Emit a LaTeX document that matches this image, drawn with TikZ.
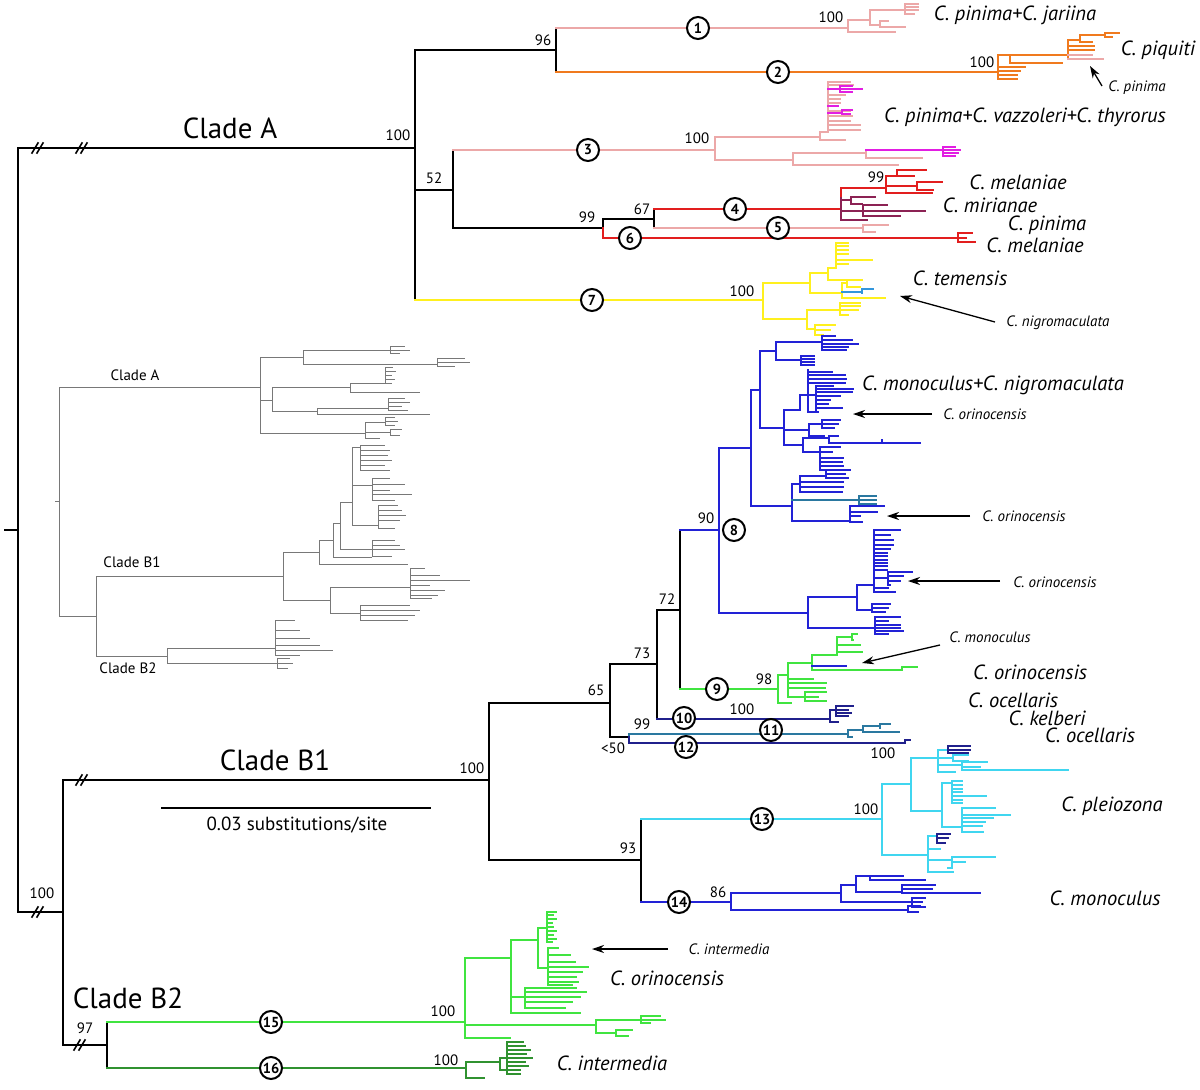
\documentclass[tikz,border=0pt]{standalone}
\usepackage{fontspec}
\setmainfont{PT Sans}
\usetikzlibrary{arrows.meta}

\definecolor{pinkc}{RGB}{236,168,168}
\definecolor{orangec}{RGB}{240,122,30}
\definecolor{magc}{RGB}{226,30,226}
\definecolor{redc}{RGB}{226,30,30}
\definecolor{mirc}{RGB}{140,34,84}
\definecolor{yelc}{RGB}{255,240,30}
\definecolor{bluec}{RGB}{34,34,214}
\definecolor{greenc}{RGB}{64,228,64}
\definecolor{navyc}{RGB}{32,32,140}
\definecolor{tealc}{RGB}{42,120,160}
\definecolor{cyanc}{RGB}{64,214,240}
\definecolor{dgreenc}{RGB}{48,146,48}
\definecolor{ltbluec}{RGB}{50,150,220}
\definecolor{greyc}{RGB}{120,120,120}

% vertical bar of a subclade plus its tips (y/xend)
\newcommand{\clade}[5]{%
  \draw[#1] (#2,#3) -- (#2,#4);
  \foreach \ty/\tx in {#5} {\draw[#1] (#2,\ty) -- (\tx,\ty);}}
% break mark //
\newcommand{\brk}[2]{\draw[bb] (#1-6,#2+5) -- (#1,#2-5) (#1-1,#2+5) -- (#1+5,#2-5);}

\begin{document}
\begin{tikzpicture}[
    x=1pt, y=-1pt,
    tr/.style={line width=1.45pt, line cap=rect},
    bb/.style={tr, line width=1.6pt, black},
    pk/.style={tr, pinkc}, or/.style={tr, orangec}, mg/.style={tr, magc},
    rd/.style={tr, redc}, mr/.style={tr, mirc}, yl/.style={tr, yelc},
    bl/.style={tr, bluec}, gr/.style={tr, greenc}, nv/.style={tr, navyc},
    tl/.style={tr, tealc}, cy/.style={tr, cyanc}, dg/.style={tr, dgreenc},
    lb/.style={tr, ltbluec},
    gy/.style={line width=0.7pt, greyc},
    num/.style={circle, draw, line width=2pt, fill=white, inner sep=0pt,
                minimum size=22pt, font=\bfseries\fontsize{14.5}{14.5}\selectfont},
    bs/.style={font=\fontsize{15}{16}\selectfont, inner sep=0pt},
    sp/.style={font=\itshape\fontsize{20.5}{22}\selectfont, inner sep=0pt},
    spsm/.style={font=\itshape\fontsize{15}{16}\selectfont, inner sep=0pt},
    cl/.style={font=\fontsize{29}{31}\selectfont, inner sep=0pt},
    il/.style={font=\fontsize{15}{16}\selectfont, inner sep=0pt},
    ar/.style={-{Stealth[length=12pt,width=8pt]}, line width=1.3pt}
    ]
\useasboundingbox (0,0) rectangle (1200,1090);

% backbone nodes
\coordinate (root) at (18,530);
\coordinate (nA) at (415,148);
\coordinate (n96) at (556,50);
\coordinate (n52) at (453,190);
\coordinate (n99a) at (603,228);
\coordinate (n67) at (654,219);
\coordinate (nB) at (63,912);
\coordinate (nB1) at (489,780);
\coordinate (n65) at (610,703);
\coordinate (n73) at (657,664);
\coordinate (n72) at (680,610);
\coordinate (n90) at (719,530);
\coordinate (n99b) at (629,737);
\coordinate (n93) at (641,860);
\coordinate (nB2) at (107,1045);
% subclade tips of the numbered branches
\coordinate (t1) at (848,28);
\coordinate (t2) at (998,72);
\coordinate (t3) at (715,150);
\coordinate (t4) at (841,209);
\coordinate (t5) at (863,228);
\coordinate (t6) at (958,238);
\coordinate (t7) at (763,300);
\coordinate (t9) at (778,689);
\coordinate (t10) at (830,719);
\coordinate (t11) at (848,734);
\coordinate (t12) at (905,743);
\coordinate (t13) at (882,819);
\coordinate (t14) at (731,902);
\coordinate (t15) at (465,1022);
\coordinate (t16) at (466,1068);

% ---- clade A backbone
\draw[bb] (5,530) -- (root);
\draw[bb] (root |- nA) -- (root |- nB);
\draw[bb] (root |- nA) -- (nA);
\brk{38}{148} \brk{82}{148}
\draw[bb] (nA |- n96) -- (nA |- t7);
\draw[bb] (nA |- n96) -- (n96);
\draw[bb] (n96 |- t1) -- (n96 |- t2);
\draw[pk] (n96 |- t1) -- (t1);
\draw[or] (n96 |- t2) -- (t2);
\draw[bb] (nA |- n52) -- (n52);
\draw[bb] (n52 |- t3) -- (n52 |- n99a);
\draw[pk] (n52 |- t3) -- (t3);
\draw[bb] (n52 |- n99a) -- (n99a);
\draw[bb] (n99a |- n67) -- (n99a);
\draw[rd] (n99a) -- (n99a |- t6) -- (t6);
\draw[bb] (n99a |- n67) -- (n67);
\draw[bb] (n67 |- t4) -- (n67 |- t5);
\draw[rd] (n67 |- t4) -- (t4);
\draw[pk] (n67 |- t5) -- (t5);
\draw[yl] (nA |- t7) -- (t7);

% ---- clade B backbone
\draw[bb] (root |- nB) -- (nB);
\brk{38}{912}
\draw[bb] (nB |- nB1) -- (nB |- nB2);
\draw[bb] (nB |- nB1) -- (nB1);
\brk{82}{780}
\draw[bb] (nB1 |- n65) -- (nB1 |- n93);
\draw[bb] (nB1 |- n65) -- (n65);
\draw[bb] (n65 |- n73) -- (n65 |- n99b);
\draw[bb] (n65 |- n73) -- (n73);
\draw[bb] (n73 |- n72) -- (n73 |- t10);
\draw[bb] (n73 |- n72) -- (n72);
\draw[bb] (n72 |- n90) -- (n72 |- t9);
\draw[bl] (n72 |- n90) -- (n90);
\draw[gr] (n72 |- t9) -- (t9);
\draw[nv] (n73 |- t10) -- (t10);
\draw[bb] (n65 |- n99b) -- (n99b);
\draw[tl] (n99b) -- (n99b |- t11) -- (t11);
\draw[nv] (n99b) -- (n99b |- t12) -- (t12);
\draw[bb] (nB1 |- n93) -- (n93);
\draw[bb] (n93 |- t13) -- (n93 |- t14);
\draw[cy] (n93 |- t13) -- (t13);
\draw[bl] (n93 |- t14) -- (t14);
\draw[bb] (nB |- nB2) -- (nB2);
\brk{80}{1045}
\draw[bb] (nB2 |- t15) -- (nB2 |- t16);
\draw[gr] (nB2 |- t15) -- (t15);
\draw[dg] (nB2 |- t16) -- (t16);

% ---- subclades
% 1
\clade{pk}{848}{20}{32}{20/870, 32/895}
\clade{pk}{870}{10}{25}{10/905, 25/880}
\clade{pk}{905}{4}{14}{4/918, 7/918, 10/918, 14/914}
\clade{pk}{880}{21}{27}{21/888, 27/905}
% 2
\clade{or}{998}{55}{79}{55/1010, 67/1025, 71/1020, 75/1017, 79/1017}
\clade{or}{1010}{55}{63}{55/1068, 63/1062}
\clade{or}{1068}{40}{59}{40/1080, 46/1094, 50/1094}
\draw[pk] (1068,55) -- (1092,55) (1068,59) -- (1103,59);
\clade{or}{1080}{35}{42}{35/1105, 42/1092}
\clade{or}{1105}{33}{37}{33/1119, 37/1112}
% 3
\clade{pk}{715}{137}{160}{137/820, 160/793}
\clade{pk}{820}{132}{140}{132/828, 140/845}
\clade{pk}{828}{82}{132}{82/850, 85/853, 95/845, 99/840, 103/840, 111/850, 116/852, 121/850, 125/860, 130/860}
\draw[mg] (828,89) -- (840,89) (828,106) -- (838,106) (828,113) -- (842,113);
\clade{mg}{840}{86}{92}{86/852, 89/862, 92/852}
\clade{mg}{842}{110}{114}{110/852, 114/850}
\clade{pk}{793}{153}{165}{153/866, 165/898}
\clade{pk}{866}{150}{158}{158/922}
\draw[mg] (866,150) -- (943,150);
\clade{mg}{943}{147}{156}{147/955, 150/960, 153/958, 156/955}
% 4, 5, 6
\clade{rd}{841}{188}{209}{188/886}
\clade{mr}{841}{198}{220}{200/851, 211/863, 220/867}
\clade{rd}{886}{176}{193}{176/897, 186/917, 193/932}
\clade{rd}{897}{170}{176}{170/926, 176/914}
\clade{rd}{917}{182}{190}{182/942, 190/933}
\clade{mr}{851}{197}{204}{197/875, 204/862}
\clade{mr}{863}{205}{216}{205/887, 211/925, 216/900}
\clade{pk}{863}{225}{232}{225/888, 232/875}
\clade{rd}{958}{233}{242}{233/972, 238/966, 242/975}
% 7
\clade{yl}{763}{283}{319}{283/810, 319/807}
\clade{yl}{810}{273}{293}{273/828, 293/842}
\clade{yl}{828}{268}{280}{268/836, 280/848}
\clade{yl}{836}{243}{268}{243/848, 246/848, 250/848, 254/848, 260/872, 264/848}
\clade{yl}{842}{283}{298}{283/847, 298/885}
\clade{yl}{847}{280}{287}{280/862, 287/860}
\clade{lb}{842}{292}{292}{292/862}
\clade{lb}{862}{289}{293}{289/873}
\clade{yl}{807}{310}{329}{310/840, 329/815}
\clade{yl}{840}{303}{315}{303/860, 306/860, 310/858, 315/848}
\clade{yl}{815}{325}{335}{325/835, 330/830, 335/823}
% 8
\clade{bl}{719}{448}{613}{448/751, 613/808}
\clade{bl}{751}{390}{506}{390/760, 506/792}
\clade{bl}{760}{351}{428}{351/776, 428/784}
\clade{bl}{776}{342}{360}{342/822, 360/801}
\clade{bl}{822}{336}{350}{336/835, 340/852, 344/858, 347/848, 350/846}
\clade{bl}{801}{356}{365}{356/814, 359/814, 362/814, 365/814}
\clade{bl}{784}{410}{445}{410/800, 430/809, 445/803}
\clade{bl}{800}{395}{410}{395/808}
\clade{bl}{808}{370}{412}{372/832, 375/845, 379/846, 383/845, 395/816, 412/818}
\clade{bl}{816}{386}{412}{386/833, 389/853, 392/852, 396/840, 400/830, 404/828, 408/842}
\clade{bl}{809}{424}{436}{424/822, 436/824}
\clade{bl}{822}{420}{428}{420/840, 424/838, 428/834}
\clade{bl}{803}{438}{452}{438/829, 452/820}
\clade{bl}{829}{436}{443}{436/838, 443/882}
\clade{bl}{882}{440}{443}{443/920}
\clade{bl}{820}{447}{470}{447/840, 452/832, 458/843, 462/842, 466/843, 470/843}
\clade{bl}{792}{484}{521}{484/800, 521/850}
\draw[tl] (792,500) -- (859,500);
\clade{tl}{859}{496}{504}{496/876, 500/876, 504/876}
\clade{bl}{800}{476}{492}{476/826, 482/843, 487/843, 492/842}
\clade{bl}{826}{470}{478}{470/850, 474/845, 478/848}
\clade{bl}{850}{506}{522}{506/884, 512/877, 516/860, 522/862}
\clade{bl}{808}{597}{628}{597/857, 628/875}
\clade{bl}{857}{585}{610}{585/874, 610/872}
\clade{bl}{874}{530}{592}{530/900, 535/890, 540/893, 545/893, 549/890, 553/887, 556/887, 560/887, 563/887, 566/887, 570/887, 578/888, 588/888, 592/895}
\clade{bl}{888}{572}{585}{572/912, 576/903, 581/900, 585/890}
\clade{bl}{872}{604}{612}{604/890, 608/888, 612/885}
\clade{bl}{875}{617}{634}{617/900, 621/888, 625/900, 628/900, 631/903, 634/888}
% 9
\clade{gr}{778}{675}{703}{675/788, 703/791}
\clade{gr}{788}{663}{697}{663/812, 679/813, 683/826, 688/825, 697/805}
\clade{gr}{805}{692}{701}{692/826, 697/818, 701/826}
\clade{gr}{812}{655}{670}{655/837, 670/902}
\clade{gr}{837}{637}{655}{637/852, 645/860, 652/862}
\clade{gr}{852}{634}{640}{634/857, 640/853}
\draw[bl] (812,666) -- (846,666);
\clade{gr}{902}{667}{670}{667/917}
% 10, 11, 12
\clade{nv}{830}{710}{722}{710/836, 722/838}
\clade{nv}{836}{706}{716}{706/853, 710/848, 713/851, 716/848}
\clade{tl}{848}{730}{737}{730/863, 737/852}
\clade{tl}{863}{726}{732}{726/880, 732/899}
\clade{tl}{880}{724}{728}{724/890}
\clade{nv}{905}{740}{743}{740/910}
% 13
\clade{cy}{882}{784}{855}{784/911, 855/928}
\clade{cy}{911}{758}{811}{758/938, 811/942}
\clade{cy}{938}{750}{772}{750/948, 758/953, 765/962, 772/955}
\clade{nv}{948}{746}{753}{746/970, 750/970, 753/968}
\clade{cy}{953}{755}{761}{755/968, 761/968}
\clade{cy}{962}{762}{770}{762/987, 767/980, 770/1068}
\clade{cy}{942}{783}{827}{783/952, 827/962}
\clade{cy}{952}{781}{803}{781/962, 785/962, 789/962, 792/962, 796/986, 800/962, 803/962}
\clade{cy}{962}{808}{832}{808/995, 815/1010, 818/993, 822/985, 826/982, 832/983}
\clade{cy}{928}{836}{872}{836/937, 849/940, 860/952, 872/953}
\clade{nv}{937}{834}{843}{834/950, 838/948, 843/945}
\clade{cy}{952}{857}{868}{857/995, 862/965, 868/948}
% 14
\clade{bl}{731}{893}{910}{893/841, 910/908}
\clade{bl}{841}{885}{902}{885/856, 902/912}
\clade{bl}{856}{876}{892}{876/870, 892/902}
\clade{bl}{870}{876}{880}{876/903, 880/925}
\clade{bl}{902}{885}{893}{885/935, 889/932, 893/980}
\clade{bl}{912}{898}{907}{898/925, 902/922, 907/925}
\clade{bl}{908}{906}{912}{906/920, 912/918}
% 15
\clade{gr}{465}{958}{1038}{958/511, 1025/596, 1038/510}
\clade{gr}{511}{940}{1013}{940/538, 997/525, 1013/580}
\clade{gr}{538}{928}{968}{928/547, 968/548}
\clade{gr}{547}{912}{942}{912/556, 915/553, 919/556, 923/552, 927/553, 931/556, 935/553, 939/556, 942/552}
\clade{gr}{548}{948}{985}{948/558, 955/570, 962/575, 967/588, 972/582, 977/576, 982/578, 985/572}
\clade{gr}{525}{988}{1008}{988/576, 992/586, 997/580, 1002/572, 1008/565}
\clade{gr}{596}{1020}{1033}{1020/641, 1033/616}
\clade{gr}{641}{1016}{1023}{1016/660, 1020/665, 1023/650}
\clade{gr}{616}{1030}{1036}{1030/632, 1036/628}
% 16
\clade{dg}{466}{1062}{1078}{1062/500, 1078/484}
\clade{dg}{500}{1058}{1070}{1058/507, 1070/520}
\clade{dg}{507}{1042}{1074}{1042/523, 1046/525, 1050/530, 1054/526, 1058/532, 1062/525, 1066/528, 1070/520, 1074/520}

% ---- inset tree
\draw[gy] (55,501) -- (59,501);
\clade{gy}{59}{387}{616}{387/260, 616/96}
\clade{gy}{260}{357}{433}{357/303, 400/272, 433/365}
\clade{gy}{303}{350}{364}{350/390, 364/437}
\clade{gy}{390}{346}{353}{346/405, 350/410, 353/400}
\clade{gy}{437}{358}{366}{358/465, 362/470, 366/455}
\clade{gy}{272}{387}{411}{387/350, 411/317}
\clade{gy}{350}{383}{392}{383/385, 392/420}
\clade{gy}{385}{367}{383}{367/393, 371/396, 375/392, 379/395, 383/392}
\clade{gy}{317}{408}{414}{408/388, 414/430}
\clade{gy}{388}{398}{410}{398/405, 402/410, 406/402, 410/408}
\clade{gy}{365}{422}{438}{422/385, 432/390, 438/380}
\clade{gy}{385}{417}{425}{417/395, 421/398, 425/395}
\clade{gy}{390}{429}{435}{429/402, 435/400}
\clade{gy}{96}{576}{656}{576/283, 656/167}
\clade{gy}{283}{552}{600}{552/319, 600/330}
\clade{gy}{319}{540}{564}{540/333, 564/408}
\clade{gy}{333}{523}{557}{523/340, 557/372}
\clade{gy}{340}{502}{549}{502/352, 549/372}
\clade{gy}{352}{447}{525}{447/360, 485/372, 525/378}
\clade{gy}{360}{445}{470}{445/385, 450/390, 455/388, 460/392, 465/385, 470/390}
\clade{gy}{372}{478}{500}{478/390, 484/405, 490/390, 494/412, 500/395}
\clade{gy}{378}{505}{528}{505/398, 510/402, 515/406, 520/400, 528/395}
\clade{gy}{372}{540}{556}{540/395, 545/400, 549/405, 556/392}
\clade{gy}{330}{587}{613}{587/410, 613/360}
\clade{gy}{410}{568}{598}{568/425, 575/440, 580/470, 585/430, 590/445, 595/438, 598/432}
\clade{gy}{360}{605}{620}{605/410, 610/420, 615/415, 620/408}
\clade{gy}{167}{648}{663}{648/275, 663/277}
\clade{gy}{275}{620}{655}{620/295, 630/300, 638/310, 645/320, 650/333, 655/300}
\clade{gy}{277}{658}{668}{658/290, 663/293, 668/288}
\node[il] (iA) at (135,375) {Clade A};
\node[il] (iB1) at (132,562) {Clade B1};
\node[il] (iB2) at (128,668) {Clade B2};

% ---- scale bar
\coordinate (sb1) at (162,808);
\coordinate (sb2) at (430,808);
\draw[bb] (sb1) -- (sb2);
\node[font=\fontsize{19}{20}\selectfont] (sbl) at (297,825) {0.03 substitutions/site};

% ---- numbered branches
\node[num] (c1) at (698,28) {1};
\node[num] (c2) at (778,72) {2};
\node[num] (c3) at (588,150) {3};
\node[num] (c4) at (735,209) {4};
\node[num] (c5) at (778,228) {5};
\node[num] (c6) at (630,238) {6};
\node[num] (c7) at (592,300) {7};
\node[num] (c8) at (734,530) {8};
\node[num] (c9) at (717,689) {9};
\node[num] (c10) at (684,718) {10};
\node[num] (c11) at (771,730) {11};
\node[num] (c12) at (686,747) {12};
\node[num] (c13) at (762,819) {13};
\node[num] (c14) at (679,902) {14};
\node[num] (c15) at (271,1022) {15};
\node[num] (c16) at (271,1068) {16};

% ---- support values
\node[bs] at (398,135) {100};
\node[bs] at (543,40) {96};
\node[bs] at (831,17) {100};
\node[bs] at (982,62) {100};
\node[bs] at (434,178) {52};
\node[bs] at (697,138) {100};
\node[bs] at (587,217) {99};
\node[bs] at (642,209) {67};
\node[bs] at (876,177) {99};
\node[bs] at (742,291) {100};
\node[bs] at (706,518) {90};
\node[bs] at (667,599) {72};
\node[bs] at (642,653) {73};
\node[bs] at (596,690) {65};
\node[bs] at (764,679) {98};
\node[bs] at (742,709) {100};
\node[bs] at (642,724) {99};
\node[bs] at (613,748) {<50};
\node[bs] at (883,753) {100};
\node[bs] at (472,768) {100};
\node[bs] at (628,848) {93};
\node[bs] at (866,809) {100};
\node[bs] at (718,892) {86};
\node[bs] at (42,893) {100};
\node[bs] at (85,1028) {97};
\node[bs] at (443,1011) {100};
\node[bs] at (446,1060) {100};

% ---- clade names
\node[cl] (lA) at (230,128) {Clade A};
\node[cl] (lB1) at (275,760) {Clade B1};
\node[cl] (lB2) at (128,998) {Clade B2};

% ---- species
\node[sp] (s1) at (1015,15) {C. pinima+C. jariina};
\node[sp] (s2) at (1158,50) {C. piquiti};
\node[spsm] (s2b) at (1137,88) {C. pinima};
\node[sp] (s3) at (1025,117) {C. pinima+C. vazzoleri+C. thyrorus};
\node[sp] (s4) at (1018,182) {C. melaniae};
\node[sp] (s4b) at (990,205) {C. mirianae};
\node[sp] (s5) at (1047,225) {C. pinima};
\node[sp] (s6) at (1035,245) {C. melaniae};
\node[sp] (s7) at (960,278) {C. temensis};
\node[spsm] (s7b) at (1058,323) {C. nigromaculata};
\node[sp] (s8) at (993,385) {C. monoculus+C. nigromaculata};
\node[spsm] (s8a) at (985,414) {C. orinocensis};
\node[spsm] (s8b) at (1024,516) {C. orinocensis};
\node[spsm] (s8c) at (1055,582) {C. orinocensis};
\node[spsm] (s9b) at (990,637) {C. monoculus};
\node[sp] (s9) at (1030,672) {C. orinocensis};
\node[sp] (s10) at (1013,700) {C. ocellaris};
\node[sp] (s11) at (1047,718) {C. kelberi};
\node[sp] (s12) at (1090,735) {C. ocellaris};
\node[sp] (s13) at (1112,806) {C. pleiozona};
\node[sp] (s14) at (1105,898) {C. monoculus};
\node[spsm] (s15b) at (729,949) {C. intermedia};
\node[sp] (s15) at (667,978) {C. orinocensis};
\node[sp] (s16) at (612,1063) {C. intermedia};

% ---- pointers
\coordinate (a1s) at (1102,86);  \coordinate (a1e) at (1090,66);
\coordinate (a2s) at (995,322);  \coordinate (a2e) at (900,296);
\coordinate (a3s) at (932,414);  \coordinate (a3e) at (853,414);
\coordinate (a4s) at (970,516);  \coordinate (a4e) at (887,516);
\coordinate (a5s) at (1000,581); \coordinate (a5e) at (908,581);
\coordinate (a6s) at (940,645);  \coordinate (a6e) at (862,663);
\coordinate (a7s) at (668,949);  \coordinate (a7e) at (592,949);
\foreach \i in {1,...,7} \draw[ar] (a\i s) -- (a\i e);

\end{tikzpicture}
\end{document}
